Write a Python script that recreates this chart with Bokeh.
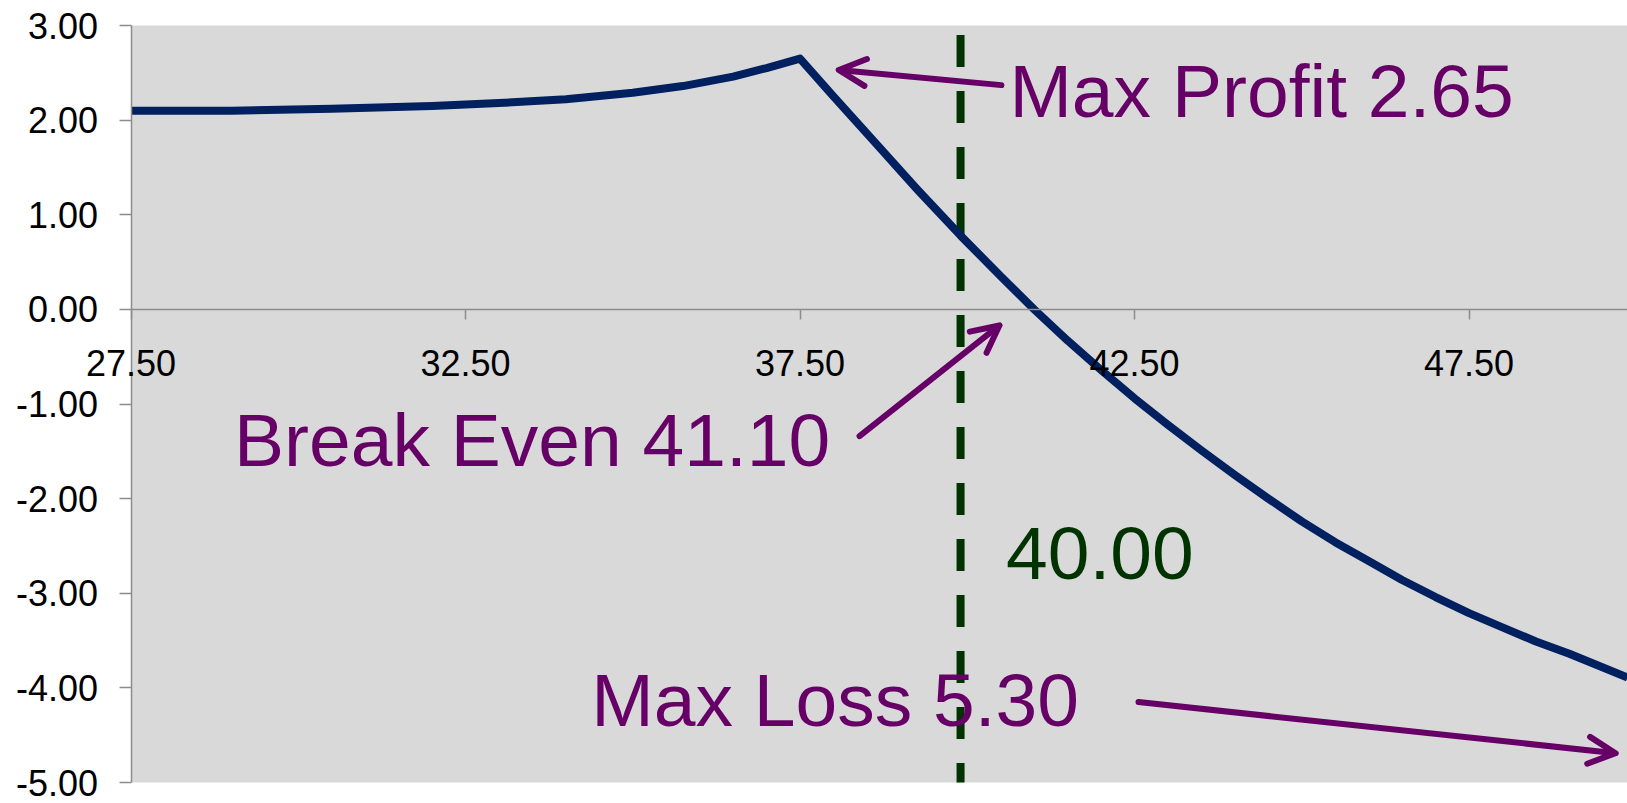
from bokeh.plotting import figure
from bokeh.models import (Range1d, Arrow, OpenHead, Label, FixedTicker,
                          CustomJSTickFormatter, BoxAnnotation)
from bokeh.embed import file_html
from bokeh.resources import INLINE

# Underlying price (x) and position profit/loss (y)
price = [27.5, 29.0, 30.5, 32.0, 33.0, 34.0, 35.0, 35.75, 36.5, 37.0, 37.5,
         38.0, 38.6, 39.25, 39.9, 40.5, 41.0, 41.5, 42.0, 42.5, 43.0, 43.5,
         44.0, 44.5, 45.0, 45.5, 46.0, 46.5, 47.0, 47.5, 48.0, 48.5, 49.0, 49.87]
pnl = [2.10, 2.10, 2.12, 2.15, 2.18, 2.22, 2.29, 2.36, 2.46, 2.55, 2.65,
       2.25, 1.78, 1.27, 0.78, 0.35, 0.00, -0.33, -0.64, -0.94, -1.22, -1.49,
       -1.75, -2.00, -2.24, -2.46, -2.66, -2.86, -3.04, -3.21, -3.36, -3.51, -3.64, -3.89]

# Current stock price marker (dashed vertical line)
current_x = [39.9, 39.9]
current_y = [2.9, -5.0]

x_ticks = [27.5, 32.5, 37.5, 42.5, 47.5]
x_tick_labels = ["27.50", "32.50", "37.50", "42.50", "47.50"]
y_ticks = [-5, -4, -3, -2, -1, 0, 1, 2, 3]

X_MIN, X_MAX = 27.5, 49.87
Y_MIN, Y_MAX = -5.0, 3.0

FONT = "Liberation Sans"
PURPLE = "#660066"
GREEN = "#003300"
AXIS_GREY = "#8c8c8c"

# The frame covers the whole canvas; the grey plot area is drawn as a box so that
# the axis labels outside of it (e.g. "27.50") are not clipped.
px_per_x = 66.9
px_per_y = 94.625
p = figure(width=1627, height=803, output_backend="svg", toolbar_location=None,
           x_range=Range1d(X_MIN - 130.5 / px_per_x, X_MIN + 1496.5 / px_per_x),
           y_range=Range1d(Y_MIN - 21 / px_per_y, Y_MAX + 25 / px_per_y))
p.min_border_left = 0
p.min_border_right = 0
p.min_border_top = 0
p.min_border_bottom = 0
p.outline_line_color = None
p.background_fill_color = "white"
p.border_fill_color = "white"
p.xgrid.visible = False
p.ygrid.visible = False

p.add_layout(BoxAnnotation(left=X_MIN, right=X_MAX, bottom=Y_MIN, top=Y_MAX,
                           fill_color="#d9d9d9", fill_alpha=1.0, line_color=None,
                           level="underlay"))

# y axis at x = 27.5
ya = p.yaxis[0]
ya.fixed_location = X_MIN
ya.bounds = (Y_MIN, Y_MAX)
ya.ticker = FixedTicker(ticks=y_ticks)
ya.formatter = CustomJSTickFormatter(code="return tick.toFixed(2);")
ya.axis_line_color = AXIS_GREY
ya.axis_line_width = 1.5
ya.major_tick_line_color = AXIS_GREY
ya.major_tick_line_width = 1.5
ya.major_tick_out = 12
ya.major_tick_in = 0
ya.minor_tick_line_color = None
ya.major_label_standoff = 21
ya.major_label_text_font = FONT
ya.major_label_text_font_size = "36px"
ya.major_label_text_color = "black"

# x axis crossing at y = 0
xa = p.xaxis[0]
xa.fixed_location = 0
xa.bounds = (X_MIN, X_MAX)
xa.ticker = FixedTicker(ticks=x_ticks)
xa.axis_line_color = AXIS_GREY
xa.axis_line_width = 1.5
xa.major_tick_line_color = AXIS_GREY
xa.major_tick_line_width = 1.5
xa.major_tick_out = 10
xa.major_tick_in = 0
xa.minor_tick_line_color = None
xa.major_label_text_color = None

for tx, tl in zip(x_ticks, x_tick_labels):
    p.add_layout(Label(x=tx, y=0, text=tl, y_offset=-54,
                       text_align="center", text_baseline="middle",
                       text_font=FONT, text_font_size="36px", text_color="black"))

# dashed current price line
p.line(current_x, current_y, line_color=GREEN, line_width=8, line_dash="32 24",
       line_cap="butt")

# P/L curve
p.line(price, pnl, line_color="#002060", line_width=8, line_join="round")

# annotations
def add_arrow(x0, y0, x1, y1):
    p.add_layout(Arrow(x_start=x0, y_start=y0, x_end=x1, y_end=y1,
                       line_color=PURPLE, line_width=6, line_cap="round",
                       end=OpenHead(size=27, line_color=PURPLE, line_width=6,
                                    line_cap="round", line_join="round")))

def add_label(x, y, text, color):
    p.add_layout(Label(x=x, y=y, text=text, text_color=color,
                       text_font=FONT, text_font_size="75px",
                       text_baseline="alphabetic", text_align="left"))

add_label(40.63, 2.31, "Max Profit 2.65", PURPLE)
add_arrow(40.51, 2.37, 38.08, 2.53)

add_label(29.04, -1.38, "Break Even 41.10", PURPLE)
add_arrow(38.39, -1.34, 40.48, -0.17)

add_label(40.58, -2.58, "40.00", GREEN)

add_label(34.38, -4.13, "Max Loss 5.30", PURPLE)
add_arrow(42.56, -4.15, 49.69, -4.69)

open("out.html", "w").write(file_html(p, INLINE))
